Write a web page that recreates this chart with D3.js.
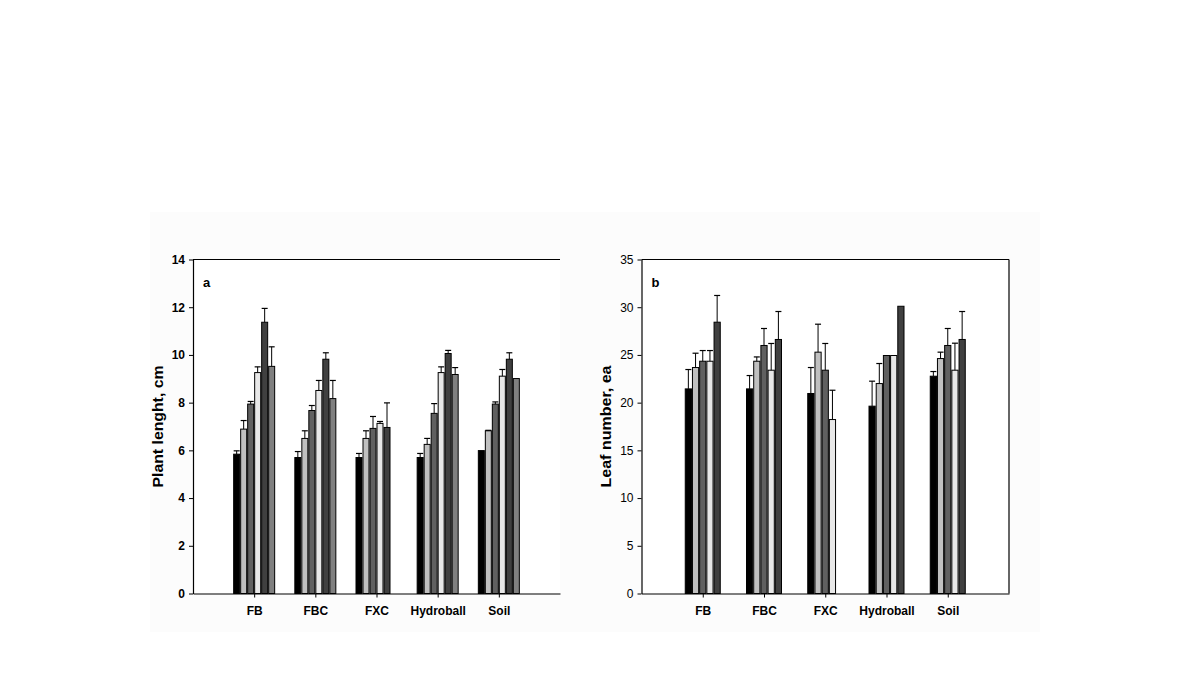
<!DOCTYPE html>
<html><head><meta charset="utf-8">
<script src="https://cdnjs.cloudflare.com/ajax/libs/d3/7.8.5/d3.min.js"></script>
<style>
body{margin:0;background:#fff;}
svg{display:block;}
.tick text{font-family:"Liberation Sans Narrow","Arial Narrow","Liberation Sans",sans-serif;}
</style></head>
<body>
<svg id="c" width="1190" height="679"></svg>
<script>
const categories = ["FB", "FBC", "FXC", "Hydroball", "Soil"];

// Panel a: plant length (cm), six series
const lengthS1 = [5.84, 5.70, 5.70, 5.70, 5.99];
const lengthS2 = [6.89, 6.50, 6.50, 6.25, 6.82];
const lengthS3 = [7.94, 7.67, 6.92, 7.55, 7.94];
const lengthS4 = [9.26, 8.51, 7.13, 9.26, 9.11];
const lengthS5 = [11.37, 9.82, 6.96, 10.06, 9.82];
const lengthS6 = [9.52, 8.17, null, 9.18, 9.01];
const lengthE1 = [0.14, 0.25, 0.17, 0.17, 0];
const lengthE2 = [0.36, 0.32, 0.32, 0.25, 0.02];
const lengthE3 = [0.11, 0.21, 0.50, 0.41, 0.09];
const lengthE4 = [0.24, 0.42, 0.08, 0.24, 0.28];
const lengthE5 = [0.58, 0.27, 1.03, 0.13, 0.27];
const lengthE6 = [0.82, 0.76, null, 0.29, 0];
const lengthTicks = [0, 2, 4, 6, 8, 10, 12, 14];

// Panel b: leaf number (ea), five series
const leafS1 = [21.44, 21.44, 20.96, 19.63, 22.77];
const leafS2 = [23.68, 24.34, 25.29, 22.00, 24.62];
const leafS3 = [24.34, 25.99, 23.40, 24.94, 25.99];
const leafS4 = [24.34, 23.40, 18.23, 24.94, 23.40];
const leafS5 = [28.43, 26.62, null, 30.10, 26.62];
const leafE1 = [2.03, 1.40, 2.72, 2.62, 0.49];
const leafE2 = [1.50, 0.45, 2.93, 2.10, 0.67];
const leafE3 = [1.12, 1.78, 2.80, 0, 1.78];
const leafE4 = [1.12, 2.80, 3.07, 0, 2.83];
const leafE5 = [2.80, 2.93, null, 0, 2.93];
const leafTicks = [0, 5, 10, 15, 20, 25, 30, 35];

const fills = ["#000000", "#c0c0c0", "#606060", "#e8e8e8", "#404040", "#808080"];

const svg = d3.select("#c");
svg.append("rect").attr("x", 150).attr("y", 212).attr("width", 890).attr("height", 420).attr("fill", "#fcfcfc");

function panel(opt) {
  const g = svg.append("g");
  const {x0, x1, y0, y1} = opt;
  g.append("rect").attr("x", x0).attr("y", y0).attr("width", x1 - x0).attr("height", y1 - y0).attr("fill", "#fff");
  const x = d3.scalePoint().domain(categories).range([x0, x1]).padding(1);
  const y = d3.scaleLinear().domain([0, opt.max]).range([y1, y0]);
  const nS = opt.series.length;
  const inner = d3.scaleBand().domain(d3.range(nS)).range([-opt.bw * nS / 2, opt.bw * nS / 2]);

  opt.series.forEach((vals, si) => {
    const data = categories.map((c, ci) => ({c, v: vals[ci], e: opt.errors[si][ci]})).filter(d => d.v != null);
    g.selectAll(null).data(data).enter().append("rect")
      .attr("x", d => x(d.c) + inner(si) + 0.5)
      .attr("y", d => y(d.v))
      .attr("width", inner.bandwidth() - 1)
      .attr("height", d => y(0) - y(d.v))
      .attr("fill", fills[si]).attr("stroke", "#000").attr("stroke-width", 1);
    const eb = data.filter(d => d.e > 0);
    const cx = d => x(d.c) + inner(si) + inner.bandwidth() / 2;
    g.selectAll(null).data(eb).enter().append("line")
      .attr("x1", cx).attr("x2", cx)
      .attr("y1", d => y(d.v)).attr("y2", d => y(d.v + d.e))
      .attr("stroke", "#000").attr("stroke-width", 1);
    g.selectAll(null).data(eb).enter().append("line")
      .attr("x1", d => cx(d) - 3).attr("x2", d => cx(d) + 3)
      .attr("y1", d => y(d.v + d.e)).attr("y2", d => y(d.v + d.e))
      .attr("stroke", "#000").attr("stroke-width", 1.2);
  });

  g.append("line").attr("x1", x0).attr("x2", x1).attr("y1", y0).attr("y2", y0).attr("stroke", "#000").attr("stroke-width", 1.2);
  if (opt.rightBorder) g.append("line").attr("x1", x1).attr("x2", x1).attr("y1", y0).attr("y2", y1).attr("stroke", "#000").attr("stroke-width", 1.2);

  const ya = g.append("g").attr("transform", `translate(${x0},0)`)
    .call(d3.axisLeft(y).tickValues(opt.ticks).tickSize(4).tickSizeOuter(0).tickPadding(4));
  ya.select(".domain").attr("stroke-width", 1.2);
  ya.selectAll(".tick text").attr("font-size", 12).attr("font-weight", opt.bold ? "bold" : "normal").attr("fill", "#000");

  const xa = g.append("g").attr("transform", `translate(0,${y1})`)
    .call(d3.axisBottom(x).tickSize(4).tickSizeOuter(0).tickPadding(9));
  xa.select(".domain").attr("stroke-width", 1.2);
  xa.selectAll(".tick text").attr("font-size", 12).attr("font-weight", "bold").attr("fill", "#000");

  g.append("text").attr("x", x0 + 10).attr("y", y0 + 27).text(opt.letter)
    .attr("font-family", "Liberation Sans, Arial, sans-serif").attr("font-weight", "bold").attr("font-size", 13);

  g.append("text").attr("transform", `translate(${opt.titleX},${(y0 + y1) / 2}) rotate(-90)`)
    .attr("text-anchor", "middle").text(opt.title)
    .attr("textLength", 122).attr("lengthAdjust", "spacingAndGlyphs")
    .attr("font-family", "Liberation Sans, Arial, sans-serif").attr("font-weight", "bold").attr("font-size", 15);
}

panel({x0: 193, x1: 560, y0: 259.5, y1: 593.5, max: 14, ticks: lengthTicks, bw: 7,
  series: [lengthS1, lengthS2, lengthS3, lengthS4, lengthS5, lengthS6],
  errors: [lengthE1, lengthE2, lengthE3, lengthE4, lengthE5, lengthE6],
  letter: "a", title: "Plant lenght, cm", titleX: 163, bold: true, rightBorder: false});

panel({x0: 641.5, x1: 1009, y0: 259.5, y1: 593.5, max: 35, ticks: leafTicks, bw: 7.2,
  series: [leafS1, leafS2, leafS3, leafS4, leafS5],
  errors: [leafE1, leafE2, leafE3, leafE4, leafE5],
  letter: "b", title: "Leaf number, ea", titleX: 611, bold: false, rightBorder: true});
</script>
</body></html>
